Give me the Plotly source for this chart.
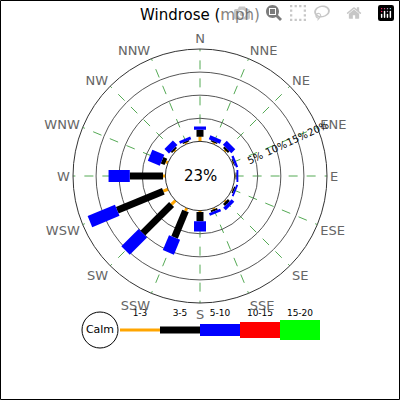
import plotly.graph_objects as go

directions = ["N","NNE","NE","ENE","E","ESE","SE","SSE","S","SSW","SW","WSW","W","WNW","NW","NNW"]
# percent per speed bin per direction
bin_labels = ["1-3","3-5","5-10","10-15","15-20"]
bin_colors = ["orange","black","blue","red","#00ff00"]
bin_widths = [3, 7, 12, 16, 20]
s1_3  = [1.0,0.3,0.3,0.2,0.2,0.2,0.3,0.3,0.3,0.7,1.2,1.1,0.5,0.5,0.3,0.3]
s3_5  = [1.5,0.3,0.5,0.2,0.2,0.3,0.6,0.4,2.0,6.2,8.8,10.8,7.2,0.9,0.4,0.3]
s5_10 = [0.7,0.9,1.2,0.5,0.4,0.4,0.8,0.6,2.2,3.5,5.3,6.4,4.6,2.8,1.4,0.6]
series = [s1_3, s3_5, s5_10]
calm = "23%"
rings = [5, 10, 15, 20]

fig = go.Figure()
angles = {d: i*22.5 for i, d in enumerate(directions)}
for i, d in enumerate(directions):
    r0 = 0
    for k, s in enumerate(series):
        r1 = r0 + s[i]
        fig.add_trace(go.Scatterpolar(r=[r0, r1], theta=[angles[d]]*2, mode="lines",
                                      line=dict(color=bin_colors[k], width=bin_widths[k]),
                                      showlegend=False, hoverinfo="skip"))
        r0 = r1

half = 127
fig.update_layout(
    width=400, height=400, margin=dict(l=0, r=0, t=0, b=0),
    paper_bgcolor="white", plot_bgcolor="white",
    title=dict(text="Windrose (mph)", x=0.5, y=0.962, xanchor="center", yanchor="middle",
               font=dict(family="DejaVu Sans", size=15, color="black")),
    polar=dict(
        domain=dict(x=[(200-half)/400, (200+half)/400], y=[(224-half)/400, (224+half)/400]),
        hole=30/110, bgcolor="white",
        radialaxis=dict(range=[0, 20], tickvals=[0]+rings, ticktext=[""]+[f"{v}%" for v in rings],
                        angle=25, tickangle=0, showline=False, ticks="",
                        gridcolor="#555", gridwidth=1,
                        tickfont=dict(family="DejaVu Sans", size=10, color="black")),
        angularaxis=dict(rotation=90, direction="clockwise", tickvals=[i*22.5 for i in range(16)],
                         ticktext=directions, ticks="", showline=True, linecolor="#333", linewidth=1,
                         gridcolor="#5a5", griddash="dash",
                         tickfont=dict(family="DejaVu Sans", size=13, color="#666")),
    ),
    xaxis=dict(range=[0, 400], visible=False, domain=[0, 1], fixedrange=True),
    yaxis=dict(range=[400, 0], visible=False, domain=[0, 1], fixedrange=True),
    showlegend=False,
)

fig.add_annotation(text=calm, x=0.5, y=224/400, xref="paper", yref="paper", showarrow=False,
                   font=dict(family="DejaVu Sans", size=15, color="black"))

# legend
lx = 120
fig.add_shape(type="circle", x0=82, x1=118, y0=312, y1=348, xref="x", yref="y",
              line=dict(color="black", width=1), layer="below")
fig.add_trace(go.Scatter(x=[100], y=[330], mode="text", text=["Calm"], xaxis="x", yaxis="y",
                         textfont=dict(family="DejaVu Sans", size=11, color="black"), hoverinfo="skip"))
for k, lab in enumerate(bin_labels):
    x0 = lx + 40*k
    fig.add_trace(go.Scatter(x=[x0, x0+40], y=[330, 330], mode="lines",
                             line=dict(color=bin_colors[k], width=bin_widths[k]), hoverinfo="skip"))
    fig.add_trace(go.Scatter(x=[x0+20], y=[314], mode="text", text=[lab],
                             textfont=dict(family="DejaVu Sans", size=9, color="black"), hoverinfo="skip"))

fig.add_shape(type="rect", x0=0.5, x1=399.5, y0=0.5, y1=399.5, xref="x", yref="y",
              line=dict(color="black", width=1))

fig.write_html("out.html", post_script="document.body.style.margin='0';window.dispatchEvent(new Event('resize'));")
